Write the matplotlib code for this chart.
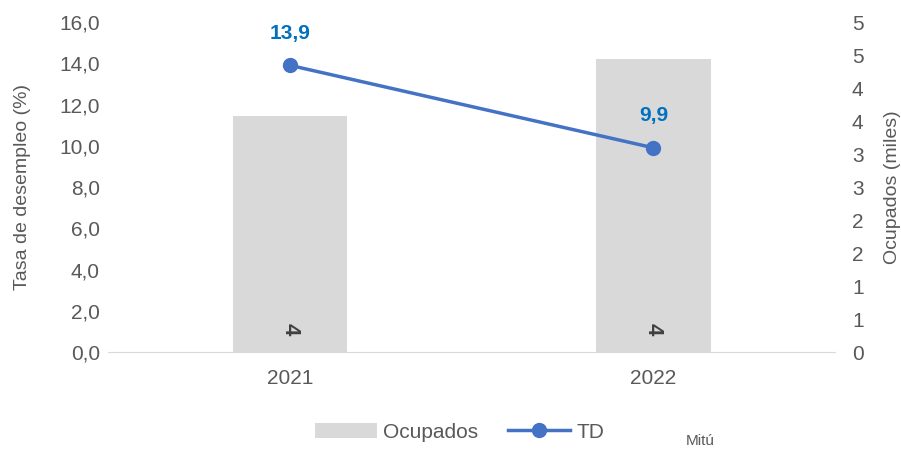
import matplotlib
matplotlib.use("Agg")
import matplotlib.pyplot as plt
from matplotlib.ticker import FuncFormatter
import numpy as np
import math

# Data
years = ["2021", "2022"]
ocupados = [3.58, 4.44]   # miles
td = [13.9, 9.9]          # %
ocup_labels = ["4", "4"]

plt.rcParams['font.family'] = ['Liberation Sans', 'DejaVu Sans']
grey = "#595959"

fig = plt.figure(figsize=(9.01, 4.51), dpi=100)
ax = fig.add_axes([0.12, 0.2195, 0.807, 0.7317])
ax2 = ax.twinx()

x = np.arange(len(years))

# bars on secondary axis
bars = ax2.bar(x, ocupados, width=0.314, color="#d9d9d9", zorder=1, label="Ocupados")
for xi, lab in zip(x, ocup_labels):
    ax2.text(xi, 0.34, lab, rotation=270, ha="center", va="center",
             fontsize=16, fontweight="bold", color="#404040")

# line on primary axis, drawn above bars
ax.set_zorder(ax2.get_zorder() + 1)
ax.patch.set_visible(False)
line, = ax.plot(x, td, color="#4472c4", lw=2.5, marker="o", ms=10, label="TD")
for xi, v in zip(x, td):
    ax.annotate(f"{v:.1f}".replace(".", ","), (xi, v), xytext=(0, 23),
                textcoords="offset points", ha="center", va="center",
                fontsize=15, fontweight="bold", color="#0070c0")

ax.set_xlim(-0.5, 1.5)
ax.set_ylim(0, 16)
ax2.set_ylim(0, 5)
ax.set_yticks(np.arange(0, 16.1, 2))
ax2.set_yticks(np.arange(0, 5.01, 0.5))
ax.yaxis.set_major_formatter(FuncFormatter(lambda v, p: f"{v:.1f}".replace(".", ",")))
ax2.yaxis.set_major_formatter(FuncFormatter(lambda v, p: str(int(math.floor(v + 0.5)))))
ax.set_xticks(x)
ax.set_xticklabels(years)

for a in (ax, ax2):
    for s in a.spines.values():
        s.set_visible(False)
    a.tick_params(length=0, labelsize=15, labelcolor=grey)
ax.spines["bottom"].set_visible(True)
ax.spines["bottom"].set_color("#d9d9d9")
ax.tick_params(axis="x", pad=12)
ax.tick_params(axis="y", pad=6)
ax2.tick_params(axis="y", pad=12)

ax.set_ylabel("Tasa de desempleo (%)", fontsize=14, color=grey, labelpad=20)
ax2.set_ylabel("Ocupados (miles)", fontsize=14, color=grey, labelpad=15)

fig.legend([bars, line], ["Ocupados", "TD"], loc="center", bbox_to_anchor=(0.51, 0.042),
           ncol=2, frameon=False, fontsize=15, handlelength=3.0, columnspacing=1.4,
           labelcolor=grey, handletextpad=0.3)
fig.text(0.777, 0.022, "Mitú", fontsize=11, color=grey, ha="center", va="center")

fig.savefig("out.png", dpi=100)
